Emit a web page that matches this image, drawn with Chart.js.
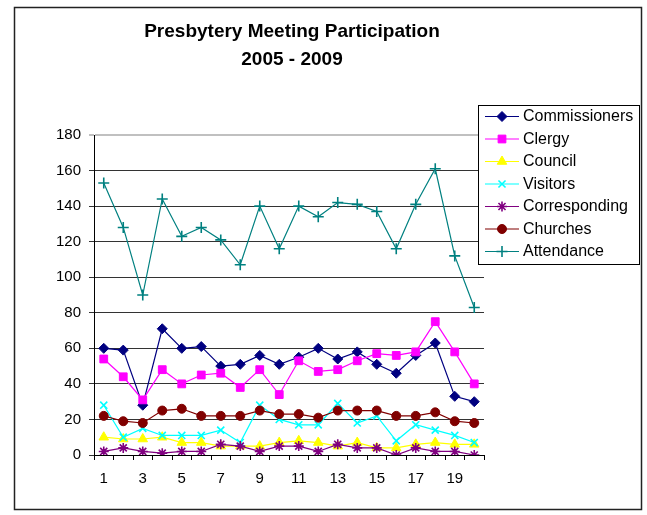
<!DOCTYPE html>
<html>
<head>
<meta charset="utf-8">
<script src="https://cdn.jsdelivr.net/npm/chart.js@4/dist/chart.umd.min.js"></script>
<style>
  html, body { margin: 0; padding: 0; background: #fff; }
  #wrap { width: 647px; height: 515px; }
</style>
</head>
<body>
<div id="wrap"><canvas id="participation"></canvas></div>
<script>
const meetings = ['1','2','3','4','5','6','7','8','9','10','11','12','13','14','15','16','17','18','19','20'];
const commissioners = [60, 59, 28, 71, 60, 61, 50, 51, 56, 51, 55, 60, 54, 58, 51, 46, 56, 63, 33, 30];
const clergy        = [54, 44, 31, 48, 40, 45, 46, 38, 48, 34, 53, 47, 48, 53, 57, 56, 58, 75, 58, 40];
const council       = [10, 9, 9, 10, 7, 7, 5, 5, 5, 7, 8, 7, 5, 7, 4, 4, 6, 7, 6, 6];
const visitors      = [28, 10, 15, 11, 11, 11, 14, 7, 28, 20, 17, 17, 29, 18, 22, 8, 17, 14, 11, 7];
const corresponding = [2, 4, 2, 1, 2, 2, 6, 5, 2, 5, 5, 2, 6, 4, 4, 0, 4, 2, 2, 0];
const churches      = [22, 19, 18, 25, 26, 22, 22, 22, 25, 23, 23, 21, 25, 25, 25, 22, 22, 24, 19, 18];
const attendance    = [153, 128, 90, 144, 123, 128, 121, 107, 140, 116, 140, 134, 142, 141, 137, 116, 141, 161, 112, 83];
const titleLines = ['Presbytery Meeting Participation', '2005 - 2009'];

const FONT = "'Liberation Sans', Arial, sans-serif";

function series(label, data, color, style, radius, markerWidth) {
    return {
        label: label,
        data: data,
        borderColor: color,
        backgroundColor: color,
        borderWidth: 1.2,
        pointStyle: style,
        pointRadius: radius,
        pointBorderColor: color,
        pointBackgroundColor: color,
        pointBorderWidth: markerWidth,
        tension: 0,
    };
}

const datasets = [
    series('Commissioners', commissioners, '#000080', 'rectRot', 5, 1),
    series('Clergy', clergy, '#FF00FF', 'rect', 5.5, 1),
    series('Council', council, '#FFFF00', 'triangle', 5.5, 1),
    series('Visitors', visitors, '#00FFFF', 'crossRot', 5, 1.6),
    series('Corresponding', corresponding, '#800080', 'star', 5, 1.6),
    series('Churches', churches, '#800000', 'circle', 4.5, 1),
    series('Attendance', attendance, '#008080', 'cross', 5.5, 1.6),
];
// later series drawn on top, like the original
datasets.forEach((d, i) => { d.order = datasets.length - i; });

const decorations = {
    id: 'decorations',
    afterDraw(chart) {
        const ctx = chart.ctx;
        ctx.save();
        // outer frame
        ctx.strokeStyle = '#222';
        ctx.lineWidth = 1.5;
        ctx.strokeRect(14.5, 7.5, 627, 502);

        // title
        ctx.fillStyle = '#000';
        ctx.font = 'bold 19px ' + FONT;
        ctx.textAlign = 'center';
        ctx.textBaseline = 'middle';
        ctx.fillText(titleLines[0], 292, 32);
        ctx.fillText(titleLines[1], 292, 60);

        // legend
        ctx.fillStyle = '#fff';
        ctx.fillRect(478, 105, 161, 159);
        ctx.strokeStyle = '#000';
        ctx.lineWidth = 1;
        ctx.strokeRect(478.5, 105.5, 161, 159);
        ctx.font = '16px ' + FONT;
        ctx.textAlign = 'left';
        chart.data.datasets.forEach((d, i) => {
            const y = 116 + i * 22.5;
            ctx.strokeStyle = d.borderColor;
            ctx.lineWidth = 1.2;
            ctx.beginPath();
            ctx.moveTo(485, y + 0.5);
            ctx.lineTo(519, y + 0.5);
            ctx.stroke();
            ctx.fillStyle = d.backgroundColor;
            ctx.strokeStyle = d.borderColor;
            ctx.lineWidth = d.pointBorderWidth;
            Chart.helpers.drawPoint(ctx, {
                pointStyle: d.pointStyle,
                radius: d.pointRadius,
                rotation: 0,
                borderWidth: d.pointBorderWidth,
            }, 502, y + 0.5);
            ctx.fillStyle = '#000';
            ctx.fillText(d.label, 523, y + 1);
        });
        ctx.restore();
    }
};

new Chart(
    document.getElementById('participation'),
    {
        type: 'line',
        data: {
            labels: meetings,
            datasets: datasets,
        },
        options: {
            responsive: true,
            maintainAspectRatio: false,
            animation: false,
            layout: {
                padding: { left: 0, top: 135, right: 163, bottom: 0 },
            },
            plugins: {
                legend: { display: false },
                title: { display: false },
                tooltip: { enabled: false },
            },
            scales: {
                x: {
                    offset: true,
                    afterFit(scale) { scale.height = 60; },
                    border: { color: '#000', width: 1 },
                    grid: {
                        offset: true,
                        drawOnChartArea: false,
                        drawTicks: true,
                        tickLength: 5,
                        color: '#000',
                    },
                    ticks: {
                        autoSkip: false,
                        maxRotation: 0,
                        padding: 10,
                        color: '#000',
                        font: { family: FONT, size: 15 },
                        callback(value, index) {
                            return index % 2 === 0 ? this.getLabelForValue(value) : '';
                        },
                    },
                },
                y: {
                    min: 0,
                    max: 180,
                    afterFit(scale) { scale.width = 94; },
                    border: { color: '#000', width: 1 },
                    grid: {
                        tickLength: 5,
                        color(c) { return c.tick && c.tick.value === 180 ? '#c0c0c0' : '#333'; },
                        lineWidth(c) { return c.tick && c.tick.value === 180 ? 2 : 1; },
                    },
                    ticks: {
                        stepSize: 20,
                        padding: 8,
                        color: '#000',
                        font: { family: FONT, size: 15 },
                    },
                },
            },
        },
        plugins: [decorations],
    }
);
</script>
</body>
</html>
